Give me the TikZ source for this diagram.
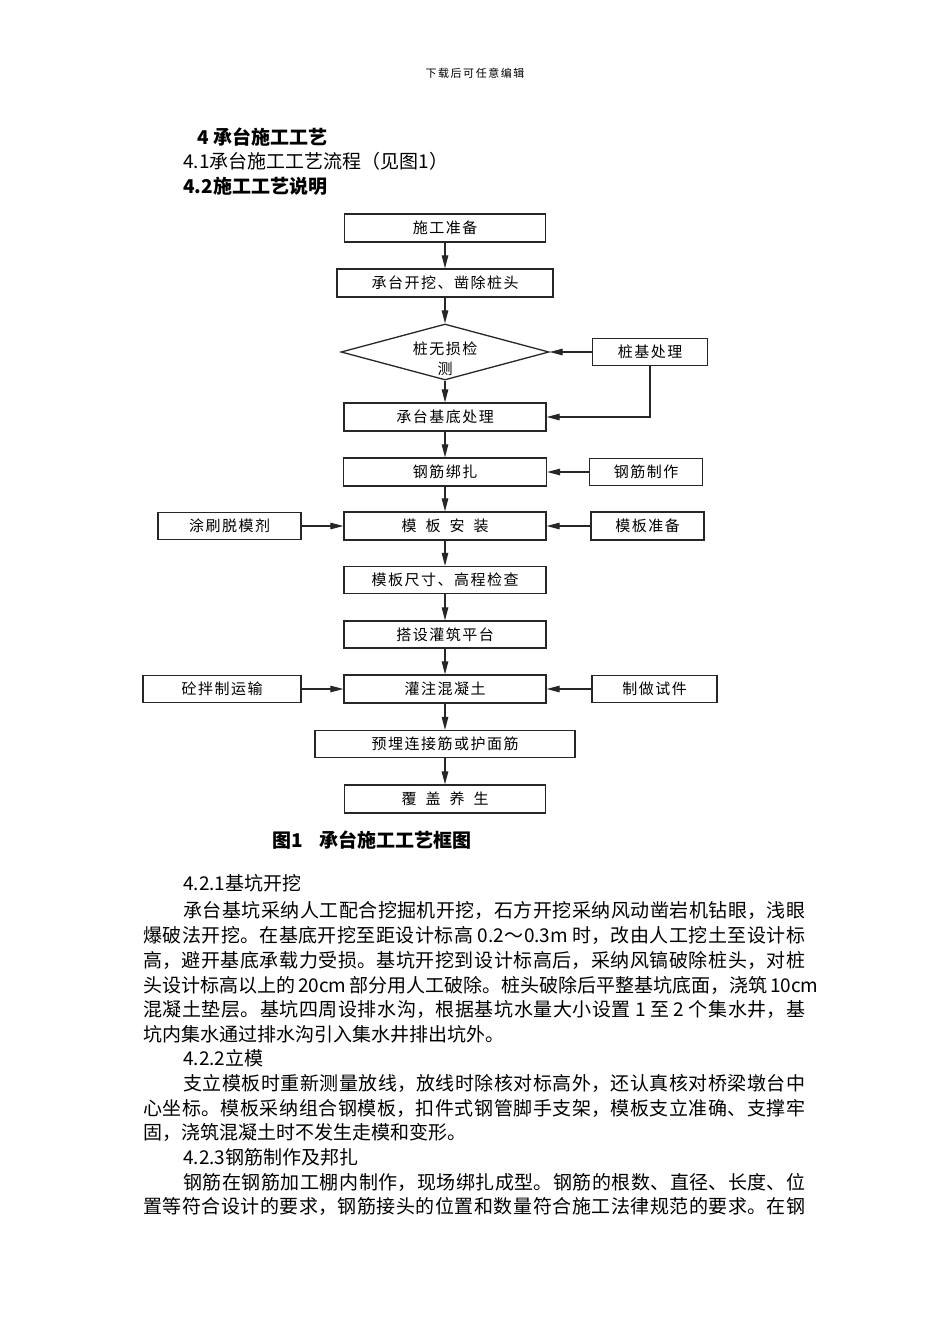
\documentclass[tikz,border=0pt]{standalone}
\usepackage{fontspec}
\setmainfont{Noto Sans CJK SC}
\newfontfamily\boxfont[LetterSpace=10]{Noto Sans CJK SC}
\newfontfamily\hdfont[LetterSpace=14]{Noto Sans CJK SC}
\usetikzlibrary{arrows.meta,shapes.geometric}
\XeTeXlinebreaklocale "zh"
\XeTeXlinebreakskip=0pt plus 6pt
\XeTeXlinebreakpenalty=10000
\newcommand\gap{\hspace{9pt}}
\newcommand\jl[4]{\node[body] (#1) at (#2) {\parbox[t]{#3}{\parfillskip=0pt\relax #4\par}};}
\begin{document}
\begin{tikzpicture}[x=1pt,y=-1pt,
  box/.style={draw=black!85, line width=1.3pt, minimum height=28pt, inner sep=0pt, font=\boxfont\fontsize{15}{18}\selectfont},
  flow/.style={draw=black!85, line width=1.2pt, -{Triangle[length=13pt,width=6.5pt]}},
  body/.style={anchor=west, inner sep=0pt, font=\fontsize{19}{24}\selectfont},
  head/.style={anchor=west, inner sep=0pt, font=\bfseries\fontsize{19}{24}\selectfont}]
\useasboundingbox[fill=white] (0,0) rectangle (950,1344);

% header and headings
\node[inner sep=0pt, font=\hdfont\fontsize{11}{13}\selectfont] (hd) at (475,73) {下载后可任意编辑};
\node[head] (h1) at (197,137) {4 承台施工工艺};
\node[body] (h2) at (183,161) {4.1承台施工工艺流程（见图1）};
\node[head] (h3) at (183,186) {4.2施工工艺说明};

% flow chart
\node[box, minimum width=201pt] (n1) at (445,228) {施工准备};
\node[box, minimum width=216pt] (n2) at (445,283) {承台开挖、凿除桩头};
\node[diamond, draw=black!85, line width=1.3pt, minimum width=208pt, minimum height=56pt, inner sep=0pt, aspect=3.7] (d) at (445,352) {};
\node[inner sep=0pt, align=center, font=\boxfont\fontsize{15}{20}\selectfont] (dt) at (445,359) {桩无损检\\测};
\node[box, minimum width=115pt, minimum height=27pt] (nz) at (650,352) {桩基处理};
\node[box, minimum width=202pt] (n3) at (445,417) {承台基底处理};
\node[box, minimum width=203pt] (n4) at (445,472) {钢筋绑扎};
\node[box, minimum width=113pt, minimum height=27pt] (ng) at (646,472) {钢筋制作};
\node[box, minimum width=202pt] (n5) at (445,526) {模\gap 板\gap 安\gap 装};
\node[box, minimum width=143pt, minimum height=27pt] (nt) at (229.5,526) {涂刷脱模剂};
\node[box, minimum width=113pt] (nm) at (647.5,526) {模板准备};
\node[box, minimum width=202pt, minimum height=27pt] (n6) at (445,580) {模板尺寸、高程检查};
\node[box, minimum width=202pt, minimum height=27pt] (n7) at (445,634.5) {搭设灌筑平台};
\node[box, minimum width=202pt] (n8) at (445,689) {灌注混凝土};
\node[box, minimum width=158pt, minimum height=27pt] (nc) at (222,689) {砼拌制运输};
\node[box, minimum width=125pt, minimum height=27pt] (ns) at (654.5,689) {制做试件};
\node[box, minimum width=260pt, minimum height=27pt] (n9) at (445,744) {预埋连接筋或护面筋};
\node[box, minimum width=201pt] (n10) at (445,799) {覆\gap 盖\gap 养\gap 生};

\draw[flow] (n1.south) -- (n2.north);
\draw[flow] (n2.south) -- (d.north);
\draw[flow] (d.south) -- (n3.north);
\draw[flow] (nz.west) -- (d.east);
\draw[flow] (nz.south) -- (nz.south |- n3.east) -- (n3.east);
\draw[flow] (n3.south) -- (n4.north);
\draw[flow] (ng.west) -- (n4.east |- ng.west);
\draw[flow] (n4.south) -- (n5.north);
\draw[flow] (nt.east) -- (n5.west |- nt.east);
\draw[flow] (nm.west) -- (n5.east |- nm.west);
\draw[flow] (n5.south) -- (n6.north);
\draw[flow] (n6.south) -- (n7.north);
\draw[flow] (n7.south) -- (n8.north);
\draw[flow] (nc.east) -- (n8.west |- nc.east);
\draw[flow] (ns.west) -- (n8.east |- ns.west);
\draw[flow] (n8.south) -- (n9.north);
\draw[flow] (n9.south) -- (n10.north);

\node[head] (cap) at (272,840) {图1\hspace{0.9em}承台施工工艺框图};

% body text
\node[body] (b1) at (183,883) {4.2.1基坑开挖};
\jl{b2}{183,910}{622pt}{承台基坑采纳人工配合挖掘机开挖，石方开挖采纳风动凿岩机钻眼，浅眼}
\jl{b3}{143,935}{662pt}{爆破法开挖。在基底开挖至距设计标高~0.2～0.3m~时，改由人工挖土至设计标}
\jl{b4}{143,960}{662pt}{高，避开基底承载力受损。基坑开挖到设计标高后，采纳风镐破除桩头，对桩}
\jl{b5}{143,985}{662pt}{头设计标高以上的~20cm~部分用人工破除。桩头破除后平整基坑底面，浇筑~10cm}
\jl{b6}{143,1009}{662pt}{混凝土垫层。基坑四周设排水沟，根据基坑水量大小设置~1~至~2~个集水井，基}
\node[body] (b7) at (143,1034) {坑内集水通过排水沟引入集水井排出坑外。};
\node[body] (b8) at (183,1058) {4.2.2立模};
\jl{b9}{183,1083}{622pt}{支立模板时重新测量放线，放线时除核对标高外，还认真核对桥梁墩台中}
\jl{b10}{143,1108}{662pt}{心坐标。模板采纳组合钢模板，扣件式钢管脚手支架，模板支立准确、支撑牢}
\node[body] (b11) at (143,1132) {固，浇筑混凝土时不发生走模和变形。};
\node[body] (b12) at (183,1157) {4.2.3钢筋制作及邦扎};
\jl{b13}{183,1182}{622pt}{钢筋在钢筋加工棚内制作，现场绑扎成型。钢筋的根数、直径、长度、位}
\jl{b14}{143,1206}{662pt}{置等符合设计的要求，钢筋接头的位置和数量符合施工法律规范的要求。在钢}
\end{tikzpicture}
\end{document}
